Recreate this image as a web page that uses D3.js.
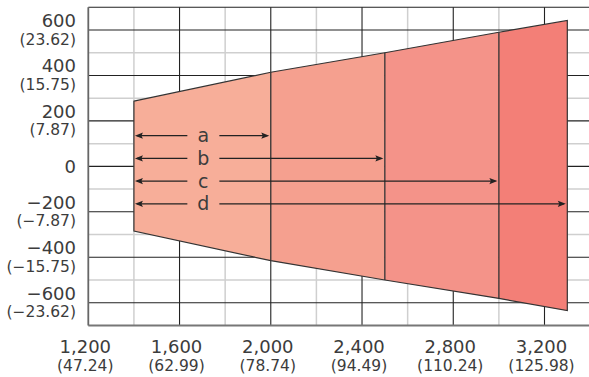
<!DOCTYPE html>
<html><head><meta charset="utf-8">
<script src="https://cdn.jsdelivr.net/npm/d3@7"></script>
<style>
html,body{margin:0;padding:0;background:#fff;}
svg{display:block;}
text{font-family:"DejaVu Sans",sans-serif;fill:#3c3c3c;}
</style></head>
<body>
<svg id="chart" width="589" height="377"></svg>
<script>
// ---- data ----
const xTicks = [1200, 1600, 2000, 2400, 2800, 3200];
const xTickSub = ["(47.24)", "(62.99)", "(78.74)", "(94.49)", "(110.24)", "(125.98)"];
const yTicks = [600, 400, 200, 0, -200, -400, -600];
const yTickSub = ["(23.62)", "(15.75)", "(7.87)", "", "(\u22127.87)", "(\u221215.75)", "(\u221223.62)"];
const xMinor = [1400, 1800, 2200, 2600, 3000, 3400];
const yMinor = [500, 300, 100, -100, -300, -500];
// envelope boundary points (x, half-height)
const envX = [1400, 2000, 2500, 3000, 3300];
const envTop = [287, 414, 500, 590, 642];
const envBottom = [-285, -415, -500, -581, -635];
const segColors = ["#f7ae99", "#f5a08f", "#f49389", "#f37f77"];
// dimension arrows
const arrowLabels = ["a", "b", "c", "d"];
const arrowEnd = [2000, 2500, 3000, 3300];
const arrowY = [135, 35, -65, -165];
const arrowStart = 1400;
const arrowLabelX = 1700;

// ---- scales ----
const svg = d3.select("#chart");
const x = d3.scaleLinear().domain([1200, 3200]).range([88.3, 544.5]);
const y = d3.scaleLinear().domain([-600, 600]).range([302.7, 30]);
const pLeft = x(1200), pRight = 589, pTop = y(700), pBottom = y(-700);

// grid minor
const g = svg.append("g");
g.selectAll(".vmin").data(xMinor).join("line")
  .attr("x1", d => x(d)).attr("x2", d => x(d)).attr("y1", pTop).attr("y2", pBottom)
  .attr("stroke", "#cfcfcf").attr("stroke-width", 1.5);
g.selectAll(".hmin").data(yMinor).join("line")
  .attr("x1", pLeft).attr("x2", pRight).attr("y1", d => y(d)).attr("y2", d => y(d))
  .attr("stroke", "#cfcfcf").attr("stroke-width", 1.5);
// grid major
g.selectAll(".vmaj").data(xTicks.slice(1)).join("line")
  .attr("x1", d => x(d)).attr("x2", d => x(d)).attr("y1", pTop).attr("y2", pBottom)
  .attr("stroke", "#222").attr("stroke-width", 1.1);
g.selectAll(".hmaj").data(yTicks).join("line")
  .attr("x1", pLeft).attr("x2", pRight).attr("y1", d => y(d)).attr("y2", d => y(d))
  .attr("stroke", "#222").attr("stroke-width", 1.1);
// borders
g.append("line").attr("x1", pLeft).attr("x2", pRight).attr("y1", pTop).attr("y2", pTop)
  .attr("stroke", "#222").attr("stroke-width", 1.1);
g.append("line").attr("x1", pLeft).attr("x2", pRight).attr("y1", pBottom).attr("y2", pBottom)
  .attr("stroke", "#777").attr("stroke-width", 2);
g.append("line").attr("x1", pLeft).attr("x2", pLeft).attr("y1", pTop).attr("y2", pBottom)
  .attr("stroke", "#666").attr("stroke-width", 1.8);

// envelope segments
const segs = d3.range(envX.length - 1).map(i => ({
  pts: [[envX[i], envTop[i]], [envX[i+1], envTop[i+1]], [envX[i+1], envBottom[i+1]], [envX[i], envBottom[i]]],
  color: segColors[i]
}));
const line = d3.line().x(d => x(d[0])).y(d => y(d[1]));
svg.append("g").selectAll("path").data(segs).join("path")
  .attr("d", d => line(d.pts) + "Z")
  .attr("fill", d => d.color).attr("stroke", "none");
// outline
const outline = envX.map((v, i) => [v, envTop[i]]).concat(envX.map((v, i) => [v, envBottom[i]]).reverse());
svg.append("path").attr("d", line(outline) + "Z").attr("fill", "none")
  .attr("stroke", "#333").attr("stroke-width", 1.2).attr("stroke-linejoin", "miter");
// dividers
svg.append("g").selectAll("line").data(envX.slice(1, -1).map((v, i) => i + 1)).join("line")
  .attr("x1", i => x(envX[i])).attr("x2", i => x(envX[i]))
  .attr("y1", i => y(envTop[i])).attr("y2", i => y(envBottom[i]))
  .attr("stroke", "#333").attr("stroke-width", 1.3);

// arrows
const ag = svg.append("g");
const gap = 15, ah = 8, aw = 3.2;
arrowLabels.forEach((lab, i) => {
  const yy = y(arrowY[i]);
  const x0 = x(arrowStart) + 1, x1 = x(arrowEnd[i]) - 1.5, lx = x(arrowLabelX);
  ag.append("line").attr("x1", x0 + 2).attr("x2", lx - gap).attr("y1", yy).attr("y2", yy)
    .attr("stroke", "#222").attr("stroke-width", 1.3);
  ag.append("line").attr("x1", lx + gap + 2).attr("x2", x1 - 2).attr("y1", yy).attr("y2", yy)
    .attr("stroke", "#222").attr("stroke-width", 1.3);
  ag.append("path").attr("d", `M${x0},${yy}L${x0 + ah},${yy - aw}L${x0 + ah - 1.5},${yy}L${x0 + ah},${yy + aw}Z`).attr("fill", "#222");
  ag.append("path").attr("d", `M${x1},${yy}L${x1 - ah},${yy - aw}L${x1 - ah + 1.5},${yy}L${x1 - ah},${yy + aw}Z`).attr("fill", "#222");
  ag.append("text").attr("x", lx + 1).attr("y", yy + 6.5).attr("text-anchor", "middle")
    .attr("font-size", 19).text(lab);
});

// y labels
const yl = svg.append("g");
yTicks.forEach((v, i) => {
  const gy = y(v);
  const lbl = v < 0 ? "\u2212" + d3.format(",")(-v) : d3.format(",")(v);
  if (yTickSub[i]) {
    yl.append("text").attr("x", 76).attr("y", gy - 3).attr("text-anchor", "end")
      .attr("font-size", 18).text(lbl);
    yl.append("text").attr("x", 76).attr("y", gy + 14.5).attr("text-anchor", "end")
      .attr("font-size", 15.5).text(yTickSub[i]);
  } else {
    yl.append("text").attr("x", 76).attr("y", gy + 7).attr("text-anchor", "end")
      .attr("font-size", 18).text(lbl);
  }
});
// x labels
const xl = svg.append("g");
xTicks.forEach((v, i) => {
  const gx = x(v) - 3;
  xl.append("text").attr("x", gx).attr("y", 353).attr("text-anchor", "middle")
    .attr("font-size", 18).text(d3.format(",")(v));
  xl.append("text").attr("x", gx).attr("y", 371).attr("text-anchor", "middle")
    .attr("font-size", 15.5).text(xTickSub[i]);
});
</script>
</body></html>
